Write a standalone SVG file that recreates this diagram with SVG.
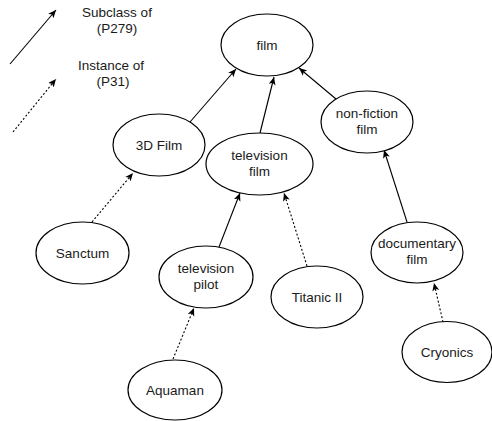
<svg xmlns="http://www.w3.org/2000/svg" width="492" height="421" viewBox="0 0 492 421">
<style>
.n{fill:#fff;stroke:#000;stroke-width:1.2}
.t{font-family:"Liberation Sans",Arial,sans-serif;font-size:13.5px;fill:#1a1a1a;text-anchor:middle}
.s{stroke:#000;stroke-width:1.1;fill:none;marker-end:url(#a)}
.d{stroke:#000;stroke-width:1.1;fill:none;stroke-dasharray:2 2;marker-end:url(#a)}
</style>
<defs>
<marker id="a" markerUnits="userSpaceOnUse" markerWidth="9" markerHeight="8" refX="8" refY="3.5" orient="auto">
<path d="M0,0 L8,3.5 L0,7 L2,3.5 z" fill="#000"/>
</marker>
</defs>
<g id="legend">
<line class="s" x1="10" y1="64" x2="56" y2="10"/>
<line class="d" x1="13" y1="132" x2="56" y2="79"/>
<text class="t" x="117" y="17">Subclass of</text>
<text class="t" x="117" y="33">(P279)</text>
<text class="t" x="111" y="70">Instance of</text>
<text class="t" x="113" y="86">(P31)</text>
</g>
<g id="connectors">
<line class="s" x1="190" y1="122" x2="236" y2="69"/>
<line class="s" x1="260" y1="133" x2="274" y2="77"/>
<line class="s" x1="336" y1="99" x2="299" y2="68"/>
<line class="s" x1="407" y1="222" x2="384" y2="150"/>
<line class="s" x1="219" y1="247" x2="240" y2="193"/>
<line class="d" x1="307" y1="266" x2="284" y2="193"/>
<line class="d" x1="92" y1="222" x2="133" y2="173"/>
<line class="d" x1="173" y1="359" x2="194" y2="308"/>
<line class="d" x1="443" y1="322" x2="434" y2="283"/>
</g>
<g id="film"><ellipse class="n" cx="267" cy="45" rx="46" ry="31"/><text class="t" x="267" y="50">film</text></g>
<g id="nonfiction"><ellipse class="n" cx="367" cy="122" rx="46" ry="31"/><text class="t" x="367" y="118">non-fiction</text><text class="t" x="367" y="134">film</text></g>
<g id="tvfilm"><ellipse class="n" cx="259.5" cy="164" rx="53.5" ry="31"/><text class="t" x="259.5" y="160">television</text><text class="t" x="259.5" y="176">film</text></g>
<g id="film3d"><ellipse class="n" cx="159" cy="145" rx="46" ry="31"/><text class="t" x="159" y="150">3D Film</text></g>
<g id="sanctum"><ellipse class="n" cx="82.5" cy="253" rx="46.5" ry="31"/><text class="t" x="82.5" y="258">Sanctum</text></g>
<g id="tvpilot"><ellipse class="n" cx="206" cy="277" rx="47" ry="31"/><text class="t" x="206" y="273">television</text><text class="t" x="206" y="289">pilot</text></g>
<g id="aquaman"><ellipse class="n" cx="175" cy="390" rx="47" ry="30"/><text class="t" x="175" y="395">Aquaman</text></g>
<g id="titanic"><ellipse class="n" cx="317" cy="297" rx="46" ry="31"/><text class="t" x="317" y="302">Titanic II</text></g>
<g id="documentary"><ellipse class="n" cx="417" cy="252.5" rx="46" ry="30.5"/><text class="t" x="417" y="248">documentary</text><text class="t" x="417" y="264">film</text></g>
<g id="cryonics"><ellipse class="n" cx="447" cy="352" rx="45" ry="30.5"/><text class="t" x="447" y="357">Cryonics</text></g>
</svg>
